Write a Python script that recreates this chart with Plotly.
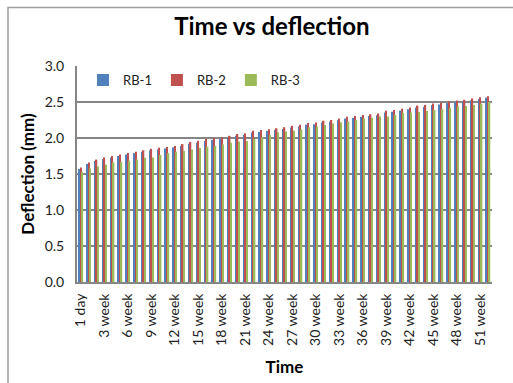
import plotly.graph_objects as go

categories = ["1 day"] + [f"{i} week" for i in range(1, 53)]

rb1 = [1.57, 1.64, 1.68, 1.71, 1.73, 1.75, 1.77, 1.79, 1.81, 1.83, 1.84, 1.855, 1.87, 1.89, 1.92, 1.935, 1.96, 1.975, 1.985, 2.005, 2.03, 2.04, 2.075, 2.085, 2.10, 2.11, 2.125, 2.145, 2.16, 2.185, 2.19, 2.215, 2.225, 2.245, 2.27, 2.28, 2.295, 2.305, 2.315, 2.355, 2.365, 2.38, 2.40, 2.425, 2.435, 2.455, 2.465, 2.485, 2.495, 2.505, 2.525, 2.54, 2.56]
rb2 = [1.59, 1.66, 1.70, 1.73, 1.75, 1.77, 1.79, 1.81, 1.83, 1.85, 1.865, 1.875, 1.89, 1.915, 1.945, 1.96, 1.985, 2.0, 2.01, 2.03, 2.055, 2.065, 2.10, 2.11, 2.12, 2.135, 2.15, 2.17, 2.185, 2.21, 2.215, 2.24, 2.25, 2.27, 2.295, 2.305, 2.32, 2.33, 2.34, 2.38, 2.39, 2.405, 2.425, 2.45, 2.46, 2.48, 2.49, 2.51, 2.52, 2.53, 2.55, 2.565, 2.58]
rb3 = [1.53, 1.575, 1.605, 1.63, 1.66, 1.665, 1.685, 1.70, 1.725, 1.73, 1.765, 1.79, 1.81, 1.82, 1.84, 1.86, 1.88, 1.89, 1.91, 1.935, 1.95, 1.96, 1.99, 2.01, 2.04, 2.08, 2.09, 2.10, 2.12, 2.15, 2.16, 2.18, 2.20, 2.22, 2.23, 2.25, 2.27, 2.28, 2.30, 2.30, 2.32, 2.35, 2.355, 2.36, 2.375, 2.39, 2.40, 2.42, 2.44, 2.445, 2.46, 2.475, 2.50]

series_names = ["RB-1", "RB-2", "RB-3"]
colors = ["#4F81BD", "#C0504D", "#9BBB59"]

fig = go.Figure()
for name, vals, col in zip(series_names, [rb1, rb2, rb3], colors):
    fig.add_trace(go.Bar(x=categories, y=vals, name=name, marker_color=col,
                         marker_line_width=0))

font_family = "Lato, 'Open Sans', sans-serif"
fig.update_layout(
    width=513, height=383,
    margin=dict(l=77, r=21, t=66, b=101),
    paper_bgcolor="white", plot_bgcolor="white",
    barmode="group", bargap=0.45, bargroupgap=0,
    font=dict(family=font_family, color="#222222", size=13),
    title=dict(text="<b>Time vs deflection</b>", x=0.53, xanchor="center",
               y=0.93, yanchor="middle", font=dict(size=24, family=font_family, color="#000000")),
    showlegend=True,
    legend=dict(orientation="h", x=0.0145, y=0.935, xanchor="left", yanchor="middle",
                bgcolor="rgba(0,0,0,0)", font=dict(size=13), itemwidth=30,
                traceorder="normal"),
    xaxis=dict(
        type="category", tickmode="array",
        tickvals=categories[::3], ticktext=categories[::3],
        tickangle=-90, tickfont=dict(size=14), automargin=False,
        showline=True, linecolor="#868686", linewidth=2,
        showgrid=False, ticks="", ticklabelstandoff=4,
        title=dict(text="<b>Time</b>", font=dict(size=17, color="#000000"), standoff=16),
    ),
    yaxis=dict(
        range=[0, 3.0], tickmode="array", tickvals=[0, 0.5, 1.0, 1.5, 2.0, 2.5, 3.0],
        tickformat=".1f", tickfont=dict(size=14), automargin=False,
        showline=True, linecolor="#868686", linewidth=2,
        showgrid=True, gridcolor="#868686", gridwidth=2,
        zeroline=False, ticks="", ticklabelstandoff=8,
        title=dict(text="<b>Deflection (mm)</b>", font=dict(size=17, color="#000000"), standoff=6),
    ),
    shapes=[dict(type="rect", xref="paper", yref="paper",
                 x0=(8 - 77) / 415, x1=(540 - 77) / 415,
                 y0=(282 - 395) / 216.3, y1=(282 - 7) / 216.3,
                 line=dict(color="#A0A0A0", width=1.5), layer="below")],
)

fig.write_html("out.html")
